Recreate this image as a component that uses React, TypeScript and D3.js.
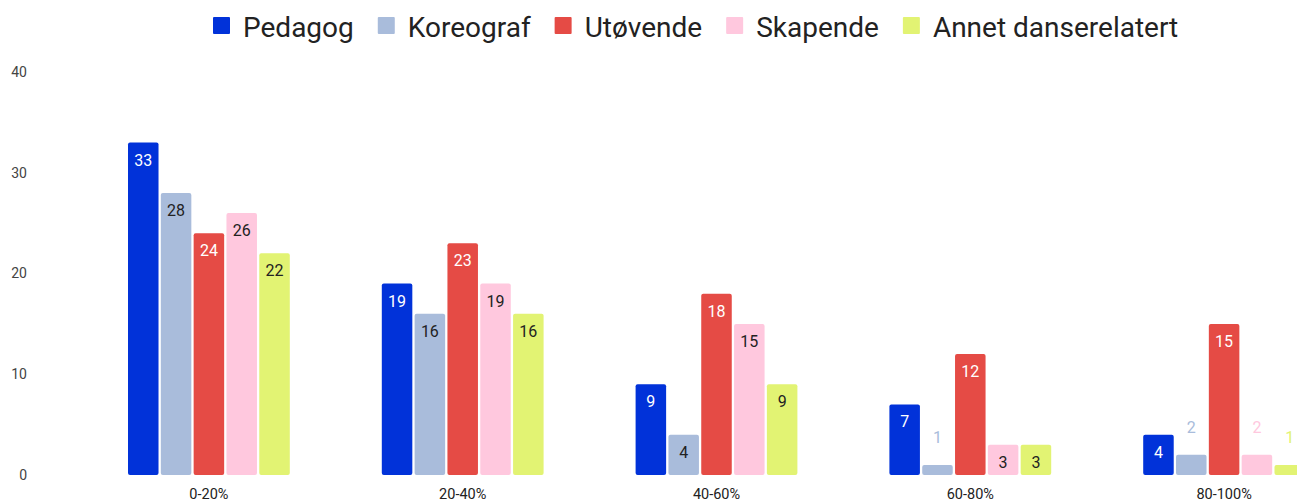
import React, { useEffect, useRef } from 'react'
import { scaleBand, scaleLinear, select } from 'd3'

const categories = ['0-20%', '20-40%', '40-60%', '60-80%', '80-100%']
const seriesNames = ['Pedagog', 'Koreograf', 'Utøvende', 'Skapende', 'Annet danserelatert']
const pedagog = [33, 19, 9, 7, 4]
const koreograf = [28, 16, 4, 1, 2]
const utovende = [24, 23, 18, 12, 15]
const skapende = [26, 19, 15, 3, 2]
const annet = [22, 16, 9, 3, 1]
const yTicks = [0, 10, 20, 30, 40]

const colors = ['#0132d9', '#a9bcdb', '#e54b45', '#ffc8de', '#e2f373']
const labelColors = ['#ffffff', '#222222', '#ffffff', '#222222', '#222222']

const App = () => {
  const ref = useRef<SVGSVGElement>(null)

  useEffect(() => {
    main()
  }, [])

  const main = () => {
    const svg = select(ref.current)
    svg.selectAll('*').remove()

    const values = [pedagog, koreograf, utovende, skapende, annet]

    const x0 = scaleBand().domain(categories).range([82, 1351])
    const x1 = scaleBand()
      .domain(seriesNames)
      .range([46, x0.bandwidth() - 46])
      .paddingInner(0.07)
    const y = scaleLinear().domain([0, 40]).range([475, 72])

    const font = 'Roboto, sans-serif'

    // y axis labels
    svg
      .append('g')
      .selectAll('text')
      .data(yTicks)
      .enter()
      .append('text')
      .attr('x', 27)
      .attr('y', (d) => y(d))
      .attr('dy', '0.35em')
      .attr('text-anchor', 'end')
      .attr('font-family', font)
      .attr('font-size', 14)
      .attr('fill', '#444')
      .text((d) => d)

    // x axis labels
    svg
      .append('g')
      .selectAll('text')
      .data(categories)
      .enter()
      .append('text')
      .attr('x', (d) => x0(d)! + x0.bandwidth() / 2)
      .attr('y', 499)
      .attr('text-anchor', 'middle')
      .attr('font-family', font)
      .attr('font-size', 14.5)
      .attr('fill', '#222')
      .text((d) => d)

    const groups = svg
      .append('g')
      .selectAll('g')
      .data(categories)
      .enter()
      .append('g')
      .attr('transform', (d) => `translate(${x0(d)},0)`)

    seriesNames.forEach((name, si) => {
      groups
        .append('rect')
        .attr('x', x1(name)!)
        .attr('y', (_, ci) => y(values[si][ci]))
        .attr('width', x1.bandwidth())
        .attr('height', (_, ci) => y(0) - y(values[si][ci]))
        .attr('rx', 2)
        .attr('fill', colors[si])

      // small bars get their label above, in the bar colour
      groups
        .append('text')
        .attr('x', x1(name)! + x1.bandwidth() / 2)
        .attr('y', (_, ci) => {
          const v = values[si][ci]
          return v <= 2 ? y(v) - 22 : y(v) + 23
        })
        .attr('text-anchor', 'middle')
        .attr('font-family', font)
        .attr('font-size', 16)
        .attr('fill', (_, ci) => (values[si][ci] <= 2 ? colors[si] : labelColors[si]))
        .text((_, ci) => values[si][ci])
    })

    // legend
    const legend = svg.append('g')
    let lx = 213
    seriesNames.forEach((name, si) => {
      legend
        .append('rect')
        .attr('x', lx)
        .attr('y', 17)
        .attr('width', 17)
        .attr('height', 17)
        .attr('rx', 1)
        .attr('fill', colors[si])
      const t = legend
        .append('text')
        .attr('x', lx + 30)
        .attr('y', 37)
        .attr('font-family', font)
        .attr('font-size', 28)
        .attr('fill', '#222')
        .text(name)
      const w = (t.node() as SVGTextElement).getComputedTextLength()
      lx = lx + 30 + w + 24
    })
  }

  return (
    <svg
      ref={ref}
      width={1297}
      height={503}
      style={{ position: 'absolute', left: 0, top: 0, background: '#fff' }}
    ></svg>
  )
}

export default App
